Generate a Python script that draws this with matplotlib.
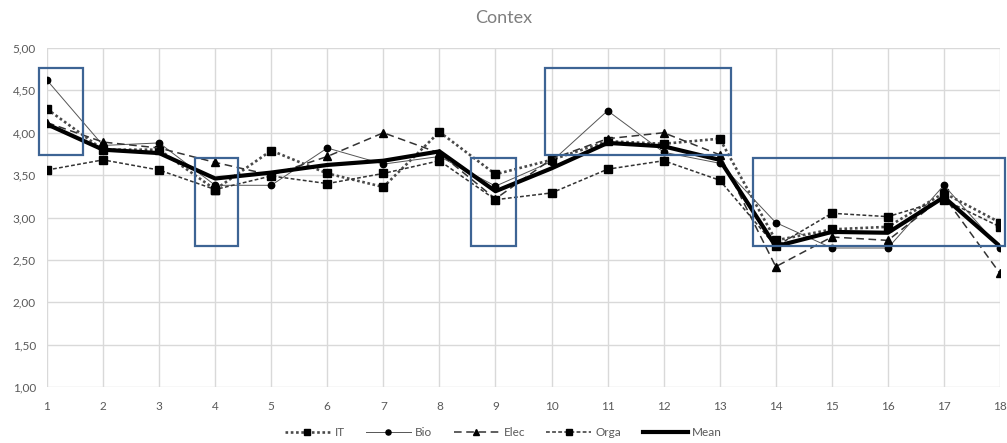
import matplotlib
matplotlib.use("Agg")
import matplotlib.pyplot as plt
from matplotlib.patches import Rectangle
from matplotlib.ticker import FuncFormatter

x = list(range(1, 19))
IT = [4.28, 3.80, 3.80, 3.33, 3.79, 3.52, 3.36, 4.01, 3.51, 3.68, 3.90, 3.87, 3.93, 2.73, 2.86, 2.89, 3.29, 2.94]
Bio = [4.62, 3.85, 3.88, 3.38, 3.38, 3.82, 3.63, 3.72, 3.37, 3.66, 4.26, 3.77, 3.64, 2.94, 2.64, 2.64, 3.38, 2.64]
Elec = [4.12, 3.89, 3.82, 3.65, 3.50, 3.72, 4.00, 3.76, 3.22, 3.69, 3.93, 4.00, 3.74, 2.42, 2.77, 2.73, 3.25, 2.34]
Orga = [3.56, 3.68, 3.56, 3.33, 3.49, 3.40, 3.52, 3.67, 3.21, 3.29, 3.57, 3.67, 3.44, 2.66, 3.05, 3.01, 3.21, 2.89]
Mean = [4.10, 3.80, 3.76, 3.46, 3.53, 3.62, 3.67, 3.78, 3.31, 3.58, 3.88, 3.84, 3.68, 2.66, 2.83, 2.82, 3.24, 2.66]

# highlight boxes: (x0, x1, y0, y1) in data units
boxes = [(0.86, 1.64, 3.74, 4.76),
         (3.64, 4.41, 2.66, 3.70),
         (8.57, 9.36, 2.66, 3.70),
         (9.875, 13.2, 3.74, 4.76),
         (13.6, 18.09, 2.66, 3.70)]

plt.rcParams['font.family'] = ['Lato', 'DejaVu Sans']

fig = plt.figure(figsize=(10.07, 4.43), dpi=100)
ax = fig.add_axes([47/1007, 1-387/443, 953/1007, (387-48)/443])

ax.plot(x, IT, linestyle=(0, (1, 1)), linewidth=1.9, color='#4a4a4a',
        marker='s', markersize=5.8, markerfacecolor='black', markeredgecolor='black', label='IT')
ax.plot(x, Bio, linestyle='-', linewidth=0.7, color='#555555',
        marker='o', markersize=4.6, markerfacecolor='black', markeredgecolor='black', label='Bio')
ax.plot(x, Elec, linestyle=(0, (5, 3)), linewidth=1.1, color='#333333',
        marker='^', markersize=5.6, markerfacecolor='black', markeredgecolor='black', label='Elec')
ax.plot(x, Orga, linestyle=(0, (2.5, 1.5)), linewidth=1.1, color='#333333',
        marker='s', markersize=5.8, markerfacecolor='black', markeredgecolor='black', label='Orga')
ax.plot(x, Mean, linestyle='-', linewidth=3, color='black', label='Mean')

for (x0, x1, y0, y1) in boxes:
    ax.add_patch(Rectangle((x0, y0), x1 - x0, y1 - y0, fill=False,
                           edgecolor='#3d6494', linewidth=1.6, clip_on=False, zorder=5))

ax.set_xlim(1, 18)
ax.set_ylim(1, 5)
ax.set_xticks(x)
ax.set_yticks([1.0, 1.5, 2.0, 2.5, 3.0, 3.5, 4.0, 4.5, 5.0])
ax.yaxis.set_major_formatter(FuncFormatter(lambda v, p: f"{v:.2f}".replace('.', ',')))
ax.grid(True, color='#d9d9d9', linewidth=1)
ax.set_axisbelow(True)
for s in ax.spines.values():
    s.set_visible(False)
ax.tick_params(length=0, labelsize=8.5, colors='#595959', pad=8)
ax.tick_params(axis='x', pad=10)

fig.text(0.5, 1-18/443, 'Contex', ha='center', va='center', fontsize=13, color='#7f7f7f')

fig.legend(loc='center', bbox_to_anchor=(0.5, 1-433/443), ncol=5, frameon=False,
           fontsize=8.5, labelcolor='#595959', handlelength=3.8, columnspacing=1.8,
           handletextpad=0.4, markerscale=0.8)

fig.savefig('out.png', dpi=100)
